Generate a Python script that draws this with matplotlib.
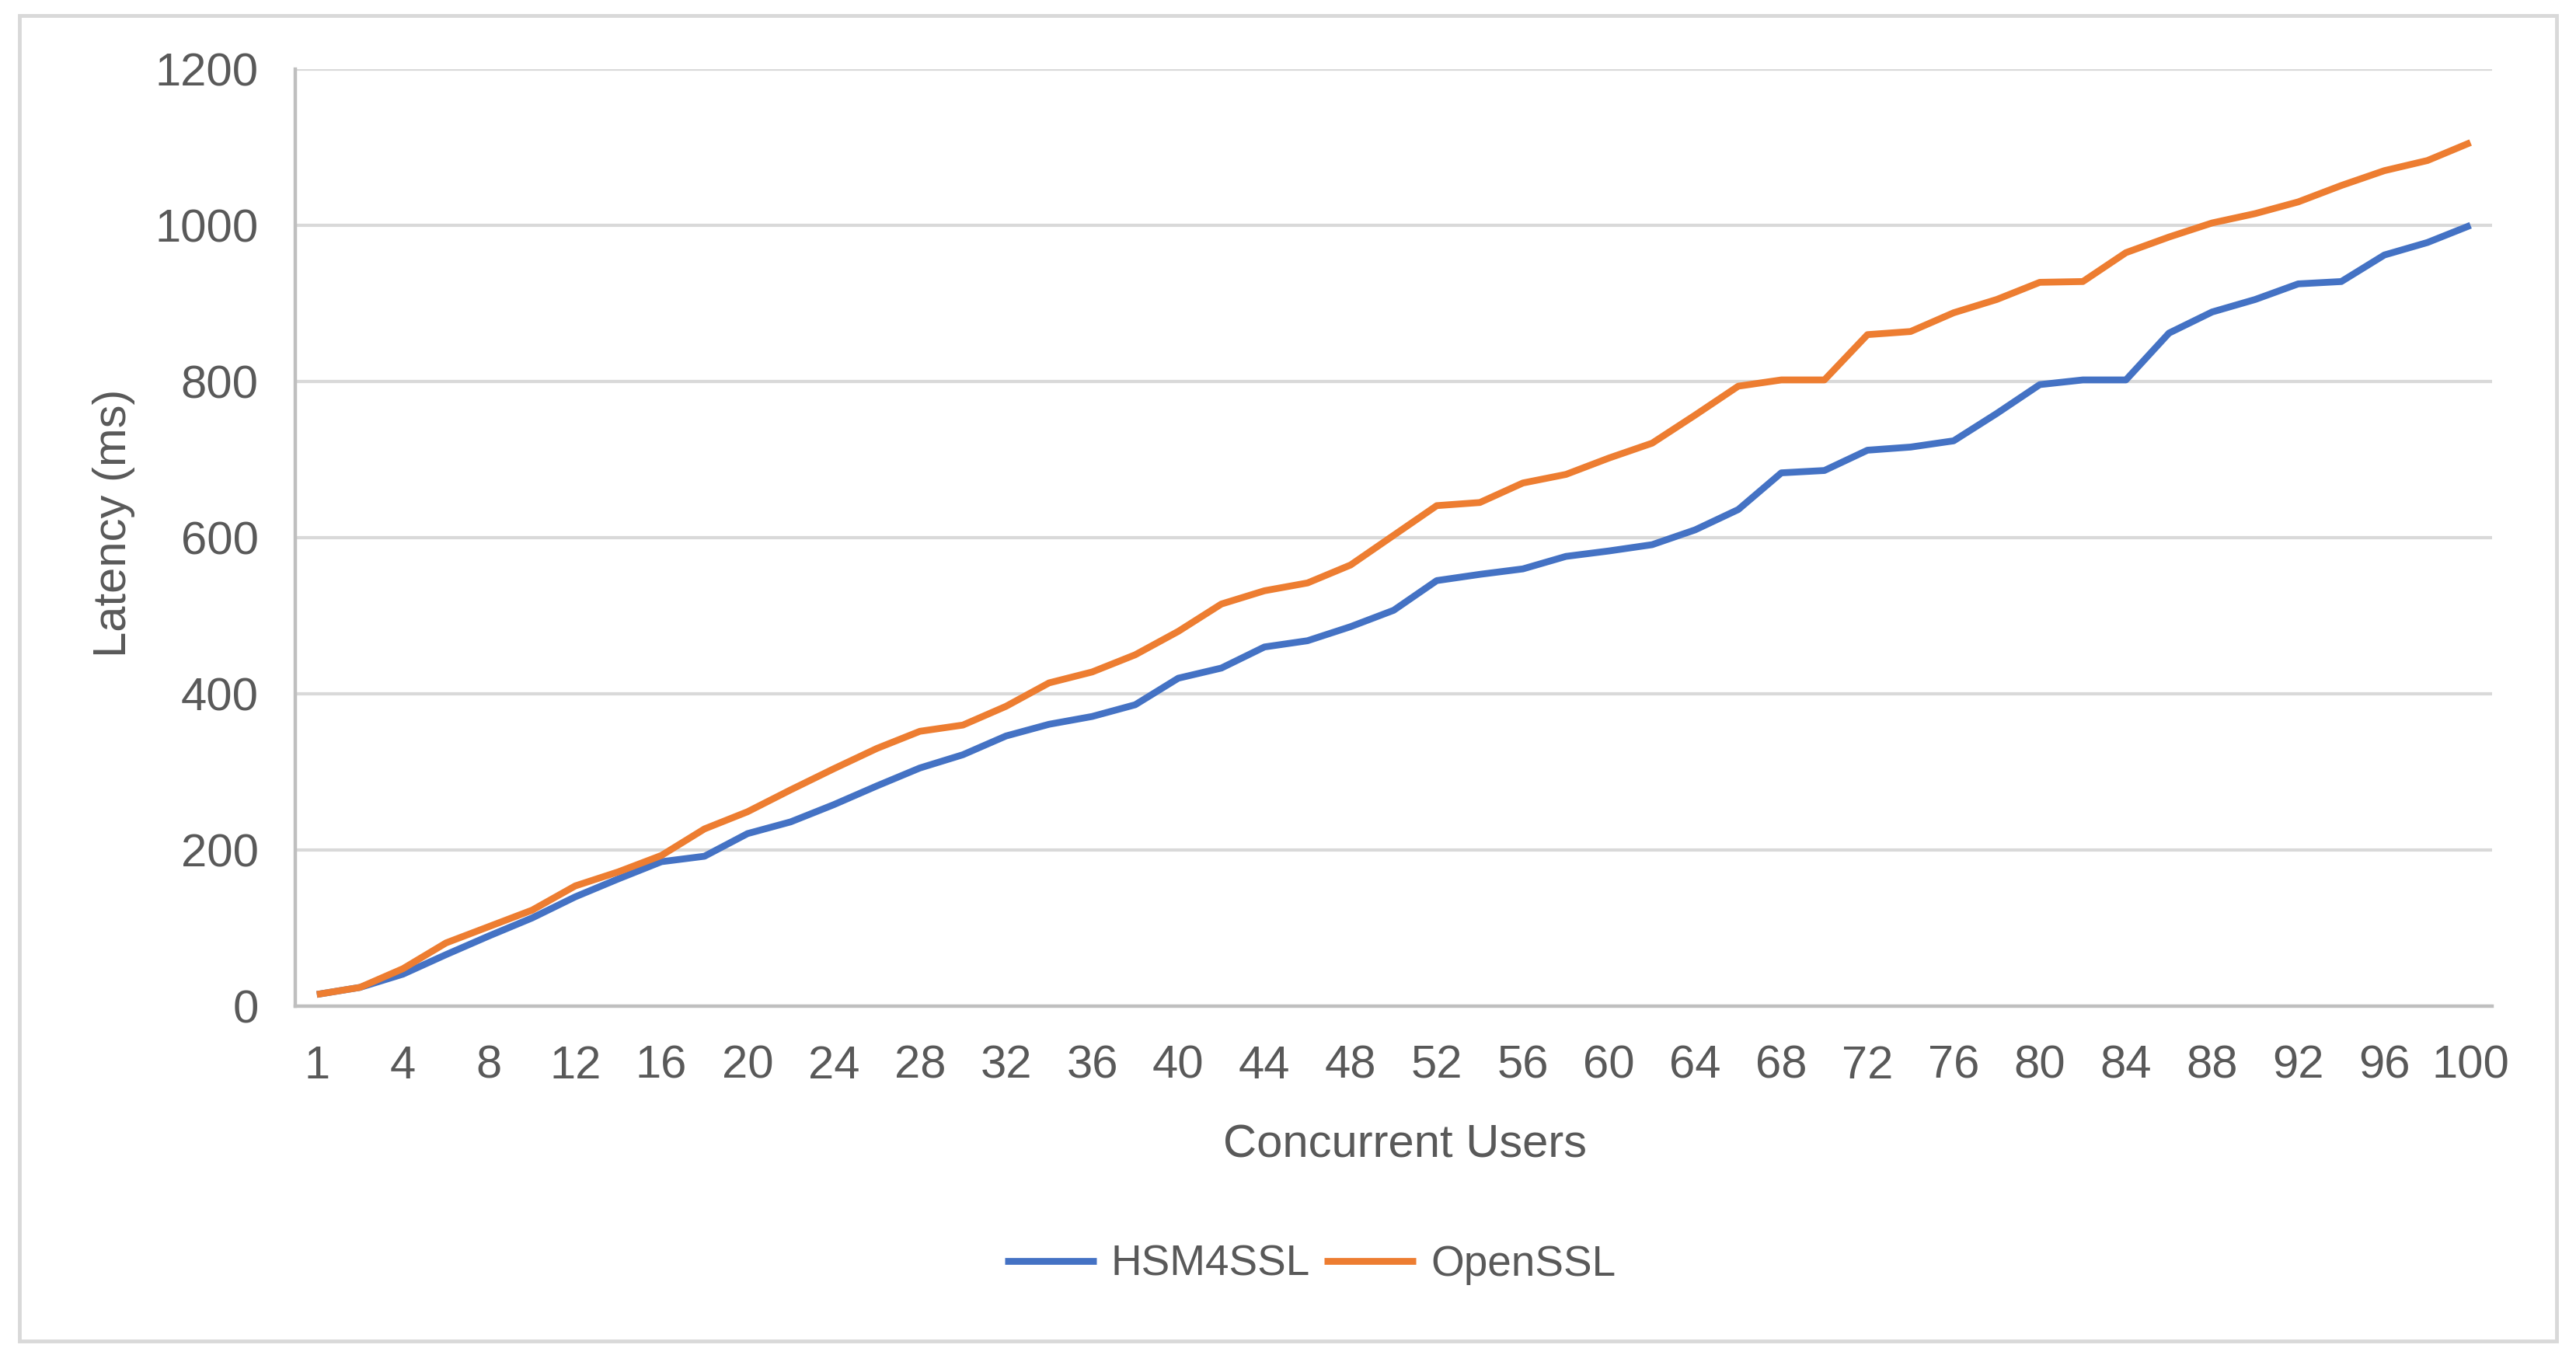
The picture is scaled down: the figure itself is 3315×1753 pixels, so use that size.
import matplotlib
matplotlib.use("Agg")
import matplotlib.pyplot as plt
from matplotlib.patches import Rectangle

# ---- data ----
users = [1] + list(range(2, 101, 2))
hsm4ssl = [15, 24, 41, 66, 90, 113, 140, 163, 185, 192,
           221, 236, 258, 282, 305, 322, 346, 361, 371, 386,
           420, 433, 460, 468, 486, 507, 545, 553, 560, 576,
           583, 591, 610, 636, 683, 686, 712, 716, 724, 759,
           796, 802, 802, 862, 889, 905, 925, 928, 962, 978, 1000]
openssl = [15, 24, 48, 81, 102, 123, 154, 172, 193, 227,
           249, 277, 304, 330, 352, 360, 384, 414, 428, 450,
           480, 515, 532, 542, 565, 603, 641, 645, 670, 681,
           702, 721, 757, 794, 802, 802, 860, 864, 888, 905,
           927, 928, 965, 985, 1003, 1015, 1030, 1051, 1070, 1083, 1106]
series_names = ["HSM4SSL", "OpenSSL"]
y_ticks = [0, 200, 400, 600, 800, 1000, 1200]

# ---- style ----
plt.rcParams['font.family'] = ['Liberation Sans', 'DejaVu Sans']
W, H = 3315, 1753
DPI = 100
fig = plt.figure(figsize=(W / DPI, H / DPI), dpi=DPI)
fig.patch.set_facecolor('white')

left, right, top, bottom = 380, 3207, 89, 1295
ax = fig.add_axes([left / W, 1 - bottom / H, (right - left) / W, (bottom - top) / H])

text_color = '#595959'
fs = 43
legend_fs = 39.5

x = list(range(len(users)))
ax.plot(x, hsm4ssl, color='#4472C4', lw=6.3, solid_joinstyle='round', solid_capstyle='butt', label=series_names[0], zorder=3)
ax.plot(x, openssl, color='#ED7D31', lw=6.3, solid_joinstyle='round', solid_capstyle='butt', label=series_names[1], zorder=3)

ax.set_xlim(-0.5, len(users) - 0.5)
ax.set_ylim(0, 1200)
ax.set_yticks(y_ticks)
ax.set_yticklabels([str(v) for v in y_ticks])
ax.set_xticks(x[::2])
ax.set_xticklabels([str(users[i]) for i in x[::2]])

ax.tick_params(axis='both', length=0, labelsize=fs, labelcolor=text_color)
ax.tick_params(axis='y', pad=34)
ax.tick_params(axis='x', pad=36)

ax.grid(axis='y', color='#d9d9d9', lw=3)
ax.set_axisbelow(True)
for s in ['top', 'right']:
    ax.spines[s].set_visible(False)
for s in ['left', 'bottom']:
    ax.spines[s].set_color('#bfbfbf')
    ax.spines[s].set_linewidth(3.2)

fig.text(1808 / W, 1 - 1490 / H, "Concurrent Users", ha='center', va='baseline',
         fontsize=fs, color=text_color)
fig.text(146 / W, 1 - 673 / H, "Latency (ms)", ha='center', va='center', rotation=90,
         fontsize=fs, color=text_color)

leg = fig.legend(loc='center', bbox_to_anchor=(1686 / W, 1 - 1628 / H), ncol=2, frameon=False,
                 fontsize=legend_fs, handlelength=2.15, handletextpad=0.34, columnspacing=0.34,
                 labelcolor=text_color)
for h in leg.get_lines():
    h.set_linewidth(6.3)

fig.patches.append(Rectangle((25 / W, 1 - 1726 / H), (3290 - 25) / W, (1726 - 20) / H,
                             transform=fig.transFigure, fill=False, edgecolor='#d9d9d9', lw=3.5))

fig.savefig("out.png", dpi=DPI, facecolor='white')
